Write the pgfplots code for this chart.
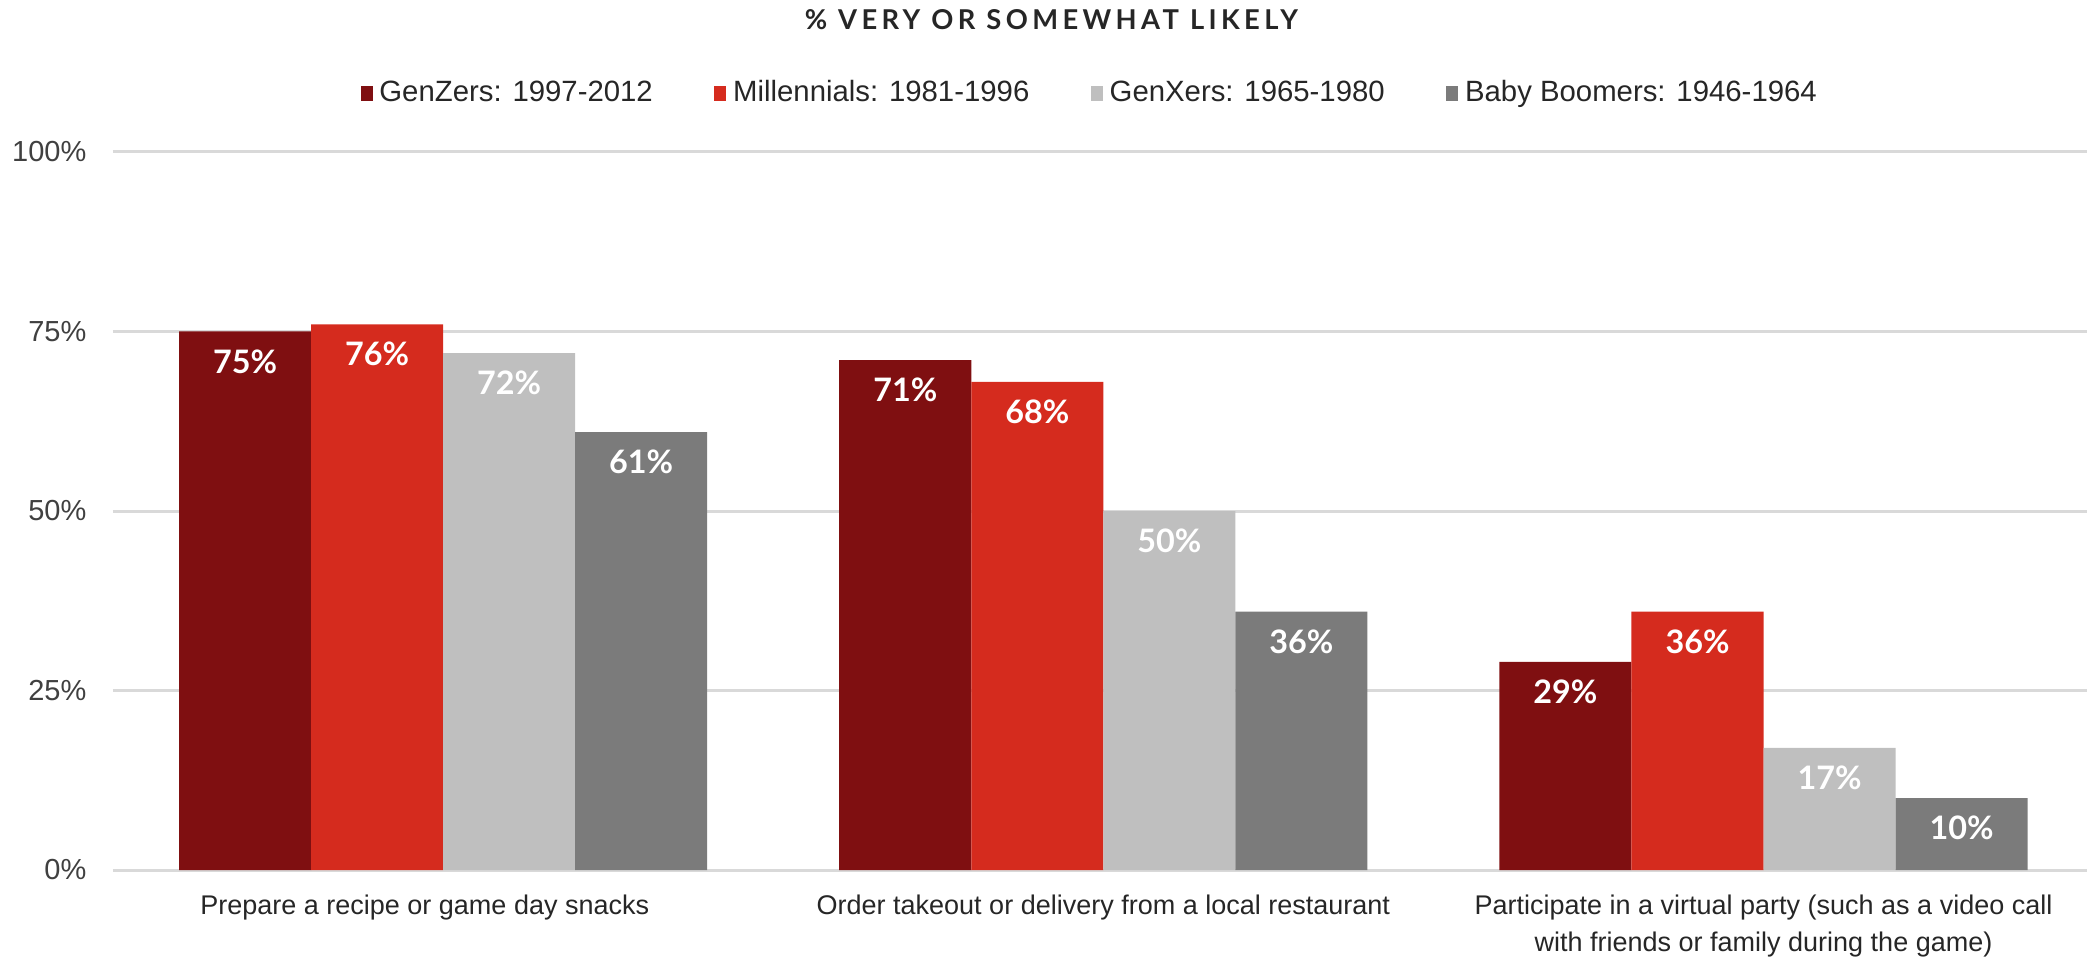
\documentclass[border=0pt]{standalone}
\usepackage{fontspec}
\setmainfont{Liberation Sans}
\newfontfamily\lato{Lato}
\newfontfamily\titlefont[LetterSpace=16]{Lato}
\usepackage{pgfplots}
\pgfplotsset{compat=1.18}
\definecolor{genz}{HTML}{7F0F11}
\definecolor{mill}{HTML}{D52B1E}
\definecolor{genx}{HTML}{BFBFBF}
\definecolor{boom}{HTML}{7B7B7B}
\definecolor{gridc}{HTML}{D9D9D9}
\definecolor{textc}{HTML}{262626}
\definecolor{tickc}{HTML}{404040}
\begin{document}
\begin{tikzpicture}
\path[use as bounding box] (-33.9pt,-25.8pt) rectangle (592.2pt,261pt);
\begin{axis}[
  at={(0pt,0pt)}, anchor=south west,
  scale only axis, width=592.2pt, height=215.4pt,
  ybar=0pt, bar width=0.2,
  xmin=-0.5, xmax=2.49, ymin=0, ymax=100,
  xtick={0,1,2},
  xticklabels={Prepare a recipe or game day snacks\hspace*{11pt}, Order takeout or delivery from a local restaurant, {Participate in a virtual party (such as a video call\\with friends or family during the game)}},
  xticklabel style={align=center, font=\fontsize{8.1}{11.1}\selectfont, text=textc, anchor=north, inner sep=0pt, yshift=-7.2pt},
  ytick={0,25,50,75,100},
  yticklabel={\pgfmathprintnumber{\tick}\%},
  yticklabel style={font=\fontsize{8.7}{10}\selectfont, text=tickc, anchor=east, inner sep=0pt, xshift=-7.8pt},
  /pgf/number format/assume math mode=true,
  ymajorgrids, major grid style={draw=gridc, line width=0.9pt},
  axis line style={draw=none},
  major tick length=0pt,
  nodes near coords={\pgfmathprintnumber{\pgfplotspointmeta}\%},
  every node near coord/.append style={font=\lato\bfseries\fontsize{9.7}{11}\selectfont, text=white, anchor=center, yshift=-9pt},
  legend image code/.code={\fill[#1] (0pt,-2.2pt) rectangle (3.6pt,2.3pt);},
  legend style={at={(0.496,1.081)}, anchor=center, draw=none, fill=none, legend columns=4, font=\fontsize{8.8}{10}\selectfont, text=textc, /tikz/every even column/.append style={column sep=16.5pt}},
  legend cell align=left,
]
\addplot[draw=none, fill=genz] coordinates {(0,75) (1,71) (2,29)};
\addlegendentry{GenZers: 1997-2012}
\addplot[draw=none, fill=mill] coordinates {(0,76) (1,68) (2,36)};
\addlegendentry{Millennials: 1981-1996}
\addplot[draw=none, fill=genx] coordinates {(0,72) (1,50) (2,17)};
\addlegendentry{GenXers: 1965-1980}
\addplot[draw=none, fill=boom] coordinates {(0,61) (1,36) (2,10)};
\addlegendentry{Baby Boomers: 1946-1964}
\end{axis}
\node[font=\titlefont\bfseries\fontsize{8.2}{9}\selectfont, text=textc] at (281.5pt,255pt) {\% VERY OR SOMEWHAT LIKELY};
\end{tikzpicture}
\end{document}
